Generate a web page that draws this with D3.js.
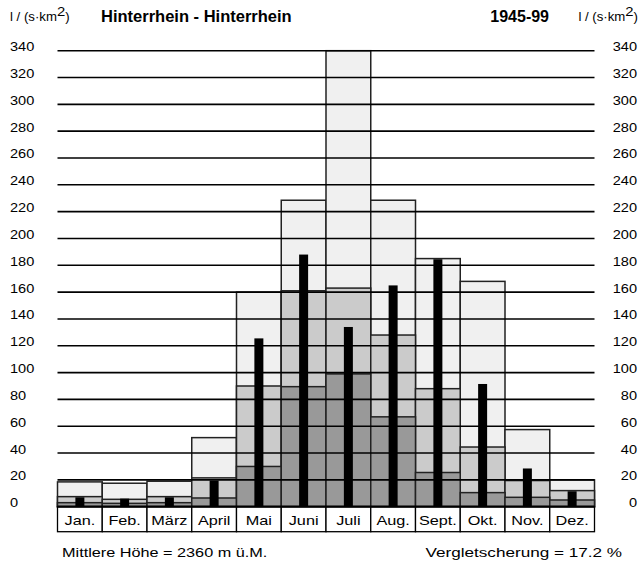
<!DOCTYPE html>
<html>
<head>
<meta charset="utf-8">
<script src="https://cdn.jsdelivr.net/npm/d3@7"></script>
<style>
  body { margin: 0; background: #fff; }
  text { font-family: "Liberation Sans", Arial, sans-serif; fill: #000; }
</style>
</head>
<body>
<div id="chart"></div>
<script>
// Monthly runoff regime, Hinterrhein - Hinterrhein 1945-99, l/(s*km2)
var months = ["Jan.", "Feb.", "März", "April", "Mai", "Juni", "Juli", "Aug.", "Sept.", "Okt.", "Nov.", "Dez."];
// highest monthly mean (light box)
var maxValues = [18.5, 17.5, 19, 51.5, 160, 228.5, 340, 228.5, 185, 168, 57.5, 20];
// upper box (medium grey)
var upperValues = [7.5, 5.5, 7.5, 21.5, 90, 161, 163, 128, 88, 44.5, 19.5, 12];
// lowest monthly mean (dark grey)
var minValues = [3, 2.5, 3, 6.5, 30, 89.5, 99, 67, 25.5, 10.5, 7, 5];
// mean value (black bar)
var meanValues = [7, 6, 7, 19.5, 125.5, 188, 134, 165, 184.5, 91.5, 28.5, 11.5];
var yTicks = [0, 20, 40, 60, 80, 100, 120, 140, 160, 180, 200, 220, 240, 260, 280, 300, 320, 340];

var width = 642, height = 563;

var svg = d3.select("#chart")
  .append("svg")
  .attr("width", width)
  .attr("height", height);

// scales
var xScale = d3.scaleBand()
  .domain(months)
  .range([57.5, 594.5])
  .padding(0);

var yScale = d3.scaleLinear()
  .domain([0, 340])
  .range([506.7, 50.7]);

var y0 = yScale(0);
var bw = xScale.bandwidth();

// text in the original is a bit wider than plain Arial -> stretch horizontally
function stretched(sel, x, y, sx){
  return sel.attr("transform", "translate(" + x + "," + y + ") scale(" + sx + ",1)");
}

// draws one layer of boxes
function boxes(values, fill){
  svg.append("g").selectAll("rect")
    .data(months)
    .enter()
    .append("rect")
    .attr("x", function(d){ return xScale(d); })
    .attr("y", function(d, i){ return yScale(values[i]); })
    .attr("width", bw)
    .attr("height", function(d, i){ return y0 - yScale(values[i]); })
    .attr("fill", fill)
    .attr("stroke", "#222")
    .attr("stroke-width", 1.5);
}
boxes(maxValues, "#f0f0f0");
boxes(upperValues, "#cbcbcb");
boxes(minValues, "#999");

// horizontal grid lines, drawn over the boxes
svg.append("g").selectAll("line")
  .data(yTicks.filter(function(d){ return d > 0; }))
  .enter()
  .append("line")
  .attr("x1", xScale.range()[0])
  .attr("x2", xScale.range()[1])
  .attr("y1", function(d){ return yScale(d); })
  .attr("y2", function(d){ return yScale(d); })
  .attr("stroke", "#000")
  .attr("stroke-width", 1.6);

// black mean bars
svg.append("g").selectAll("rect")
  .data(months)
  .enter()
  .append("rect")
  .attr("x", function(d){ return xScale(d) + bw / 2 - 4.5; })
  .attr("y", function(d, i){ return yScale(meanValues[i]); })
  .attr("width", 9)
  .attr("height", function(d, i){ return y0 - yScale(meanValues[i]); })
  .attr("fill", "#000");

// month row
var monthRow = svg.append("g");
monthRow.selectAll("rect")
  .data(months)
  .enter()
  .append("rect")
  .attr("x", function(d){ return xScale(d); })
  .attr("y", y0)
  .attr("width", bw)
  .attr("height", 25)
  .attr("fill", "#fff")
  .attr("stroke", "#000")
  .attr("stroke-width", 1.3);

monthRow.selectAll("text")
  .data(months)
  .enter()
  .append("text")
  .each(function(d){
    stretched(d3.select(this), xScale(d) + bw / 2, y0 + 18, 1.25);
  })
  .attr("text-anchor", "middle")
  .style("font-size", "13px")
  .text(function(d){ return d; });

// base line
svg.append("line")
  .attr("x1", xScale.range()[0])
  .attr("x2", xScale.range()[1])
  .attr("y1", y0)
  .attr("y2", y0)
  .attr("stroke", "#000")
  .attr("stroke-width", 2.2);

// y labels, left and right
svg.append("g").selectAll("text")
  .data(yTicks)
  .enter()
  .append("text")
  .each(function(d){ stretched(d3.select(this), 10, yScale(d) + 0.5, 1.12); })
  .style("font-size", "13px")
  .text(function(d){ return d; });

svg.append("g").selectAll("text")
  .data(yTicks)
  .enter()
  .append("text")
  .each(function(d){ stretched(d3.select(this), 637, yScale(d) + 0.5, 1.12); })
  .attr("text-anchor", "end")
  .style("font-size", "13px")
  .text(function(d){ return d; });

// header
function unitLabel(x, anchor){
  var t = stretched(svg.append("text"), x, 21, 1.1)
    .attr("text-anchor", anchor)
    .style("font-size", "12px");
  t.append("tspan").text("l / (s·km");
  t.append("tspan").attr("dy", -5).style("font-size", "13.5px").text("2");
  t.append("tspan").attr("dy", 5).text(")");
}
unitLabel(10, "start");
unitLabel(638, "end");

svg.append("text")
  .attr("x", 101)
  .attr("y", 22)
  .style("font-size", "16.5px")
  .style("font-weight", "bold")
  .text("Hinterrhein - Hinterrhein");

svg.append("text")
  .attr("x", 549)
  .attr("y", 22)
  .attr("text-anchor", "end")
  .style("font-size", "16px")
  .style("font-weight", "bold")
  .text("1945-99");

// footer
stretched(svg.append("text"), 62, 557, 1.3)
  .style("font-size", "12.5px")
  .text("Mittlere Höhe = 2360 m ü.M.");

stretched(svg.append("text"), 622, 557, 1.37)
  .attr("text-anchor", "end")
  .style("font-size", "12.5px")
  .text("Vergletscherung = 17.2 %");
</script>
</body>
</html>
